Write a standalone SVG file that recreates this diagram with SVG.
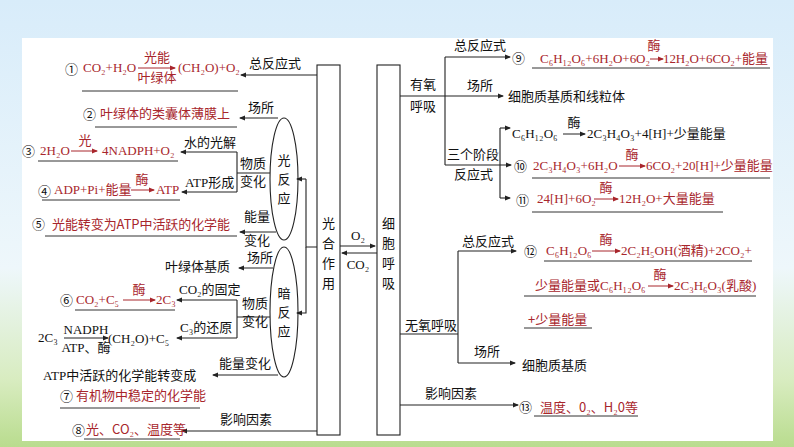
<svg xmlns="http://www.w3.org/2000/svg" width="794" height="447" viewBox="0 0 794 447">
<defs>
<linearGradient id="bg" x1="0" y1="0" x2="0" y2="1">
<stop offset="0" stop-color="#d8ecfa"/><stop offset="0.6" stop-color="#eef7fb"/><stop offset="0.85" stop-color="#d8ecc0"/><stop offset="1" stop-color="#b9dc8e"/>
</linearGradient>
<marker id="ah" markerWidth="6" markerHeight="6" refX="5" refY="3" orient="auto" markerUnits="userSpaceOnUse"><path d="M0,0.5 L6,3 L0,5.5 Z" fill="#222"/></marker>
<marker id="ar" markerWidth="6" markerHeight="6" refX="5" refY="3" orient="auto" markerUnits="userSpaceOnUse"><path d="M0,0.5 L6,3 L0,5.5 Z" fill="#a8262c"/></marker>
</defs>
<style>
text{font-family:"Liberation Serif","Noto Sans CJK SC",serif;font-size:13px;fill:#111}
.r{fill:#a8262c}
.c{font-family:"Noto Sans CJK SC","Liberation Serif",sans-serif}
.m{text-anchor:middle}
.ln{stroke:#222;stroke-width:1.1;fill:none}
.ul{stroke:#333;stroke-width:1;fill:none}
.ea{stroke:#a8262c;stroke-width:1;fill:none;marker-end:url(#ar)}
.eb{stroke:#222;stroke-width:1;fill:none;marker-end:url(#ah)}
.a{marker-end:url(#ah)}
</style>
<rect width="794" height="447" fill="url(#bg)"/>
<rect x="22" y="38" width="751" height="403" fill="#fff"/>

<g id="photosynthesis"><rect x="317" y="65" width="23" height="370" class="ln" fill="#fff"/>
<text class="c m" x="328.5" y="228">光</text><text class="c m" x="328.5" y="248">合</text><text class="c m" x="328.5" y="268">作</text><text class="c m" x="328.5" y="288">用</text></g>
<g id="respiration"><rect x="377" y="65" width="23" height="370" class="ln" fill="#fff"/>
<text class="c m" x="388.5" y="228">细</text><text class="c m" x="388.5" y="248">胞</text><text class="c m" x="388.5" y="268">呼</text><text class="c m" x="388.5" y="288">吸</text></g>
<g id="light"><ellipse cx="284" cy="179" rx="14" ry="61" class="ln" fill="#fff"/>
<text class="c m" x="284" y="165">光</text><text class="c m" x="284" y="184">反</text><text class="c m" x="284" y="203">应</text></g>
<g id="dark"><ellipse cx="284" cy="312" rx="14" ry="65" class="ln" fill="#fff"/>
<text class="c m" x="284" y="298">暗</text><text class="c m" x="284" y="317">反</text><text class="c m" x="284" y="336">应</text></g>

<g id="connectors">
<path class="ln" d="M340,246 H375" marker-end="url(#ah)"/>
<path class="ln" d="M377,253 H342" marker-end="url(#ah)"/>
<path class="ln a" d="M317,75 H241"/>
<path class="ln" d="M317,247 H306 V179"/><path class="ln a" d="M306,179 H297"/>
<path class="ln a" d="M306,247 V313 H297"/>
<path class="ln a" d="M278,118 H240"/>
<path class="ln" d="M270,173 H237 M237,152 V192"/>
<path class="ln a" d="M237,152 H181"/><path class="ln a" d="M237,192 H182"/>
<path class="ln a" d="M276,232 H240"/>
<path class="ln a" d="M273,268 H239"/>
<path class="ln" d="M270,317 H237 M237,300 V338"/>
<path class="ln a" d="M237,300 H177"/><path class="ln a" d="M237,338 H177"/>
<path class="ln a" d="M278,375 H213"/>
<path class="ln a" d="M317,431 H182"/>
<path class="ln" d="M400,96 H445 M445,57 V165 M500,128 V198"/>
<path class="ln a" d="M445,57 H510"/><path class="ln a" d="M445,96 H503"/><path class="ln a" d="M445,165 H511"/>
<path class="ln a" d="M500,128 H510"/><path class="ln a" d="M500,198 H510"/>
<path class="ln" d="M400,334 H458 M458,251 V363"/>
<path class="ln a" d="M458,251 H516"/><path class="ln a" d="M458,363 H515"/>
<path class="ln a" d="M400,405 H518"/>
</g>

<g id="labels">
<text class="m" x="358" y="240" font-size="12">O₂</text><text class="m" x="358" y="269" font-size="12">CO₂</text>
<text class="c" x="249" y="68">总反应式</text>
<text class="c" x="248" y="112">场所</text>
<text class="c" x="184" y="147" font-size="12.5">水的光解</text>
<text class="c" x="240" y="168">物质</text><text class="c" x="240" y="186">变化</text>
<text x="185" y="187" font-size="12">ATP<tspan class="c">形成</tspan></text>
<text class="c" x="244" y="221">能量</text><text class="c" x="244" y="245">变化</text>
<text class="c" x="247" y="262">场所</text>
<text x="179" y="294" font-size="12">CO₂<tspan class="c">的固定</tspan></text>
<text class="c" x="242" y="308">物质</text><text class="c" x="242" y="326">变化</text>
<text x="180" y="332" font-size="12">C₃<tspan class="c">的还原</tspan></text>
<text class="c" x="219" y="368">能量变化</text>
<text class="c" x="220" y="424">影响因素</text>
<text class="c" x="410" y="89">有氧</text><text class="c" x="410" y="111">呼吸</text>
<text class="c" x="454" y="50">总反应式</text>
<text class="c" x="467" y="90">场所</text>
<text class="c" x="447" y="159">三个阶段</text><text class="c" x="454" y="179">反应式</text>
<text class="c" x="405" y="330">无氧呼吸</text>
<text class="c" x="462" y="246">总反应式</text>
<text class="c" x="474" y="356">场所</text>
<text class="c" x="425" y="398">影响因素</text>
</g>

<g id="left-eqs">
<text x="65" y="74" font-size="14">①</text>
<text class="r" x="83" y="72">CO₂+H₂O</text><path class="ea" d="M138,68 H175"/>
<text class="r c m" x="157" y="62">光能</text><text class="r c m" x="157" y="82">叶绿体</text>
<text class="r" x="178" y="72">(CH₂O)+O₂</text>
<path class="ul" d="M82,91 H238"/>
<text x="83" y="119" font-size="14">②</text>
<text class="r c" x="100" y="118" textLength="130">叶绿体的类囊体薄膜上</text>
<path class="ul" d="M95,127 H237"/>
<text x="22" y="156" font-size="14">③</text>
<text class="r" x="40" y="155">2H₂O</text><path class="ea" d="M71,151 H97"/>
<text class="r c m" x="85" y="145">光</text>
<text class="r" x="102" y="155">4NADPH+O₂</text>
<path class="ul" d="M38,161 H178"/>
<text x="38" y="196" font-size="14">④</text>
<text class="r" x="54" y="194">ADP+Pi+<tspan class="c">能量</tspan></text><path class="ea" d="M131,190 H154"/>
<text class="r c m" x="142" y="184">酶</text>
<text class="r" x="156" y="194">ATP</text>
<path class="ul" d="M42,200 H180"/>
<text x="32" y="229" font-size="14">⑤</text>
<text class="r c" x="52" y="229" textLength="178" font-size="12.5">光能转变为ATP中活跃的化学能</text>
<path class="ul" d="M45,236 H237"/>
<text class="c" x="165" y="271">叶绿体基质</text>
<text x="60" y="305" font-size="14">⑥</text>
<text class="r" x="76" y="304">CO₂+C₅</text><path class="ea" d="M123,300 H155"/>
<text class="r c m" x="139" y="294">酶</text>
<text class="r" x="156" y="304">2C₃</text>
<path class="ul" d="M75,310 H175"/>
<text x="38" y="342">2C₃</text>
<path class="eb" d="M64,338 H108"/>
<text class="m" x="86" y="334" font-size="12">NADPH</text><text class="m" x="86" y="352" font-size="12">ATP<tspan class="c">、酶</tspan></text>
<text x="108" y="343">(CH₂O)+C₅</text>
<text x="43" y="380">ATP<tspan class="c">中活跃的化学能转变成</tspan></text>
<text x="60" y="401" font-size="14">⑦</text>
<text class="r c" x="76" y="400">有机物中稳定的化学能</text>
<path class="ul" d="M60,408 H200"/>
<text x="72" y="435" font-size="14">⑧</text>
<text class="r c" x="86" y="434">光、CO₂、温度等</text>
<path class="ul" d="M84,439 H180"/>
</g>

<g id="right-eqs">
<text x="512" y="63" font-size="14">⑨</text>
<text class="r" x="540" y="63" textLength="110">C₆H₁₂O₆+6H₂O+6O₂</text><path class="ea" d="M650,59 H663"/>
<text class="r c m" x="654" y="50">酶</text>
<text class="r" x="663" y="63" textLength="105">12H₂O+6CO₂+<tspan class="c">能量</tspan></text>
<path class="ul" d="M532,68 H770"/>
<text class="c" x="508" y="101">细胞质基质和线粒体</text>
<text x="512" y="138">C₆H₁₂O₆</text><path class="eb" d="M563,134 H585"/>
<text class="c m" x="574" y="127">酶</text>
<text x="587" y="138">2C₃H₄O₃+4[H]+<tspan class="c">少量能量</tspan></text>
<text x="514" y="171" font-size="14">⑩</text>
<text class="r" x="533" y="170">2C₃H₄O₃+6H₂O</text><path class="ea" d="M619,166 H645"/>
<text class="r c m" x="632" y="159">酶</text>
<text class="r" x="646" y="170">6CO₂+20[H]+<tspan class="c">少量能量</tspan></text>
<path class="ul" d="M532,178 H770"/>
<text x="516" y="205" font-size="14">⑪</text>
<text class="r" x="537" y="203">24[H]+6O₂</text><path class="ea" d="M594,199 H618"/>
<text class="r c m" x="606" y="192">酶</text>
<text class="r" x="619" y="203">12H₂O+<tspan class="c">大量能量</tspan></text>
<path class="ul" d="M532,212 H723"/>
<text x="524" y="256" font-size="14">⑫</text>
<text class="r" x="546" y="255">C₆H₁₂O₆</text><path class="ea" d="M592,251 H620"/>
<text class="r c m" x="606" y="244">酶</text>
<text class="r" x="621" y="255">2C₂H₅OH(<tspan class="c">酒精</tspan>)+2CO₂+</text>
<path class="ul" d="M544,261 H752"/>
<text class="r" x="535" y="290"><tspan class="c">少量能量或</tspan>C₆H₁₂O₆</text><path class="ea" d="M648,286 H673"/>
<text class="r c m" x="660" y="279">酶</text>
<text class="r" x="674" y="290">2C₃H₆O₃(<tspan class="c">乳酸</tspan>)</text>
<path class="ul" d="M524,296 H756"/>
<text class="r c" x="528" y="324">+少量能量</text>
<path class="ul" d="M524,328 H592"/>
<text class="c" x="522" y="370">细胞质基质</text>
<text x="519" y="412" font-size="14">⑬</text>
<text class="r c" x="540" y="412">温度、0₂、H₂0等</text>
<path class="ul" d="M534,416 H638"/>
</g>
</svg>
